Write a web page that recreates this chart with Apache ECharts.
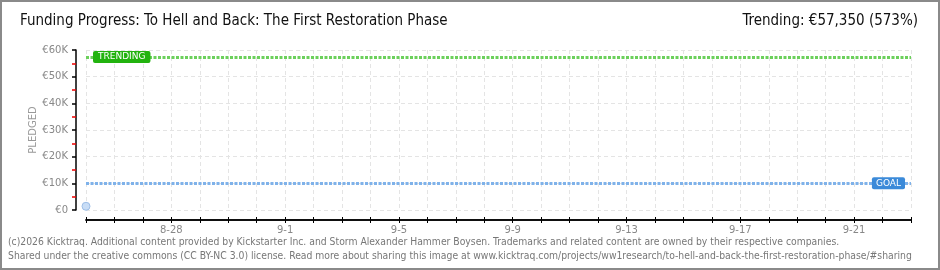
<!DOCTYPE html>
<html>
<head>
	<meta charset="utf-8">
	<title></title>
	<style type="text/css">
	html, body { margin: 0; padding: 0; background: #fff; }
	#chart { width: 940px; height: 270px; }
	</style>
</head>
<body>
	<div id="chart"></div>
	<script src="https://cdn.jsdelivr.net/npm/echarts@6/dist/echarts.min.js"></script>
	<script>
	// days of the campaign
	var days = ['8-25', '8-26', '8-27', '8-28', '8-29', '8-30', '8-31',
		'9-1', '9-2', '9-3', '9-4', '9-5', '9-6', '9-7', '9-8', '9-9', '9-10',
		'9-11', '9-12', '9-13', '9-14', '9-15', '9-16', '9-17', '9-18', '9-19',
		'9-20', '9-21', '9-22', '9-23'];
	var pledged = [1400];
	var goal = 10000;
	var trending = 57350;

	var axisFont = 'DejaVu Sans';
	var gridLineStyle = { color: '#e4e4e4', type: [4, 3], width: 1 };
	var footFont = '10.3px "DejaVu Sans Condensed", sans-serif';
	var headFont = '15px "Liberation Sans Narrow", "DejaVu Sans Condensed", sans-serif';

	var chart = echarts.init(document.getElementById('chart'));
	var option = {
		animation: false,
		grid: [
			{ left: 86, right: 29, top: 50, bottom: 60 },
			// thin strip that carries the date axis, 10px under the plot
			{ left: 86, right: 29, bottom: 50, height: 1 }
		],
		graphic: [
			{ type: 'rect', shape: { x: 1, y: 1, width: 938, height: 268 }, style: { fill: 'none', stroke: '#8a8a8a', lineWidth: 2 } },
			{ type: 'text', left: 20, top: 14, style: { text: 'Funding Progress: To Hell and Back: The First Restoration Phase', font: headFont, fill: '#111' } },
			{ type: 'text', right: 22, top: 14, style: { text: 'Trending: €57,350 (573%)', font: headFont, fill: '#111' } },
			{ type: 'text', left: 8, top: 237, style: { text: '(c)2026 Kicktraq. Additional content provided by Kickstarter Inc. and Storm Alexander Hammer Boysen. Trademarks and related content are owned by their respective companies.', font: footFont, fill: '#777' } },
			{ type: 'text', left: 8, top: 251, style: { text: 'Shared under the creative commons (CC BY-NC 3.0) license. Read more about sharing this image at www.kicktraq.com/projects/ww1research/to-hell-and-back-the-first-restoration-phase/#sharing', font: footFont, fill: '#777' } }
		],
		xAxis: [{
			// plot grid: only the vertical dashed lines
			type: 'category',
			gridIndex: 0,
			data: days,
			boundaryGap: false,
			axisLine: { show: false },
			axisTick: { show: false },
			axisLabel: { show: false },
			splitLine: { show: true, interval: 0, lineStyle: gridLineStyle }
		}, {
			type: 'category',
			gridIndex: 1,
			data: days,
			boundaryGap: false,
			axisLine: { onZero: false, lineStyle: { color: '#000', width: 1.5 } },
			axisTick: { show: true, interval: 0, length: 3, lineStyle: { color: '#000' } },
			axisLabel: {
				interval: function(i) { return (i + 1) % 4 === 0; },
				margin: 5, color: '#888', fontFamily: axisFont, fontSize: 10
			},
			splitLine: { show: false }
		}, {
			type: 'category',
			gridIndex: 1,
			data: days,
			boundaryGap: false,
			position: 'bottom',
			axisLine: { onZero: false, lineStyle: { color: '#000', width: 1.5 } },
			axisTick: { show: true, inside: true, interval: 0, length: 3, lineStyle: { color: '#000' } },
			axisLabel: { show: false },
			splitLine: { show: false }
		}],
		yAxis: [{
			type: 'value',
			gridIndex: 0,
			min: 0, max: 60000, interval: 10000,
			offset: 10,
			name: 'PLEDGED',
			nameLocation: 'middle',
			nameRotate: 90,
			nameGap: 38,
			nameMoveOverlap: false,
			nameTextStyle: { color: '#999', fontFamily: axisFont, fontSize: 10 },
			axisLine: { show: true, lineStyle: { color: '#000', width: 1.5 } },
			axisTick: { show: true, length: 4, lineStyle: { color: '#000', width: 1.5 } },
			minorTick: { show: true, splitNumber: 2, length: 4, lineStyle: { color: '#e00', width: 1.5 } },
			axisLabel: {
				margin: 8, color: '#888', fontFamily: axisFont, fontSize: 10,
				formatter: function(v) { return v === 0 ? '€0' : '€' + (v / 1000) + 'K'; }
			},
			splitLine: { show: true, lineStyle: gridLineStyle }
		}, {
			type: 'value',
			gridIndex: 1,
			show: false
		}],
		series: [{
			name: 'Pledged',
			type: 'line',
			xAxisIndex: 0,
			yAxisIndex: 0,
			data: pledged,
			symbol: 'circle',
			symbolSize: 8,
			itemStyle: { color: '#c8ddf6', borderColor: '#9cbde6', borderWidth: 1 },
			lineStyle: { color: '#9cbde6' },
			markLine: {
				silent: true,
				symbol: 'none',
				data: [{
					yAxis: trending,
					lineStyle: { color: '#6cd05c', width: 3, type: [3, 1.5] },
					label: {
						show: true, position: 'insideStart', distance: 7, formatter: 'TRENDING',
						color: '#fff', backgroundColor: '#22b30f', padding: [2, 5, 1, 5], borderRadius: 2,
						fontFamily: axisFont, fontSize: 9
					}
				}, {
					yAxis: goal,
					lineStyle: { color: '#7fb2ea', width: 3, type: [3, 1.5] },
					label: {
						show: true, position: 'insideEnd', distance: 6, formatter: 'GOAL',
						color: '#fff', backgroundColor: '#3b8ad9', padding: [2, 4, 1, 4], borderRadius: 2,
						fontFamily: axisFont, fontSize: 9
					}
				}]
			}
		}]
	};
	chart.setOption(option);
	</script>
</body>
</html>
